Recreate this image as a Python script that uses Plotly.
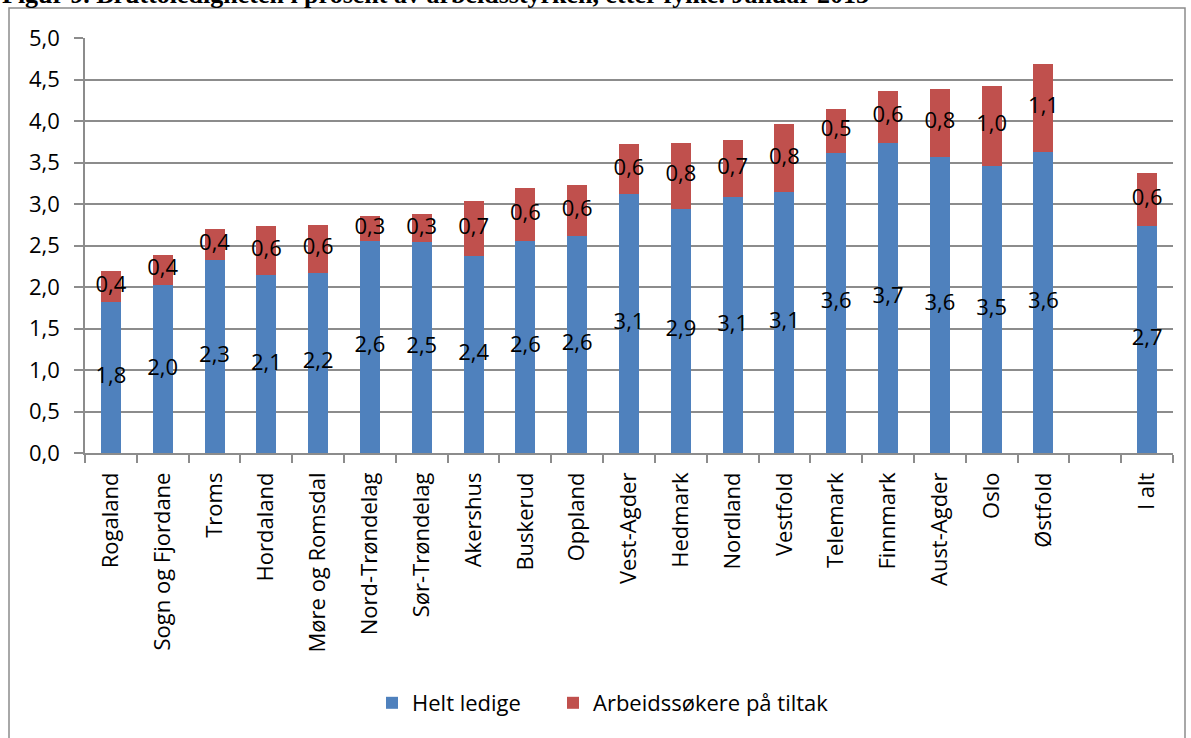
import plotly.graph_objects as go

categories = ["Rogaland", "Sogn og Fjordane", "Troms", "Hordaland", "Møre og Romsdal",
              "Nord-Trøndelag", "Sør-Trøndelag", "Akershus", "Buskerud", "Oppland",
              "Vest-Agder", "Hedmark", "Nordland", "Vestfold", "Telemark", "Finnmark",
              "Aust-Agder", "Oslo", "Østfold", " ", "I alt"]
helt_ledige = [1.82, 2.02, 2.33, 2.14, 2.17, 2.56, 2.54, 2.37, 2.56, 2.62,
               3.12, 2.94, 3.08, 3.14, 3.62, 3.74, 3.57, 3.46, 3.63, None, 2.73]
tiltak = [0.37, 0.37, 0.37, 0.60, 0.58, 0.29, 0.34, 0.67, 0.63, 0.61,
          0.60, 0.80, 0.69, 0.82, 0.52, 0.62, 0.82, 0.96, 1.06, None, 0.64]
series_names = ["Helt ledige", "Arbeidssøkere på tiltak"]
title_text = "Figur 9. Bruttoledigheten i prosent av arbeidsstyrken, etter fylke. Januar 2013"

BLUE = "#4F81BD"
RED = "#C0504D"
GRID = "#8C8C8C"
FONT = "Open Sans"
FS = 22

W, H = 1191, 738
ML, MR, MT, MB = 85, 18, 38, 285
PW, PH = W - ML - MR, H - MT - MB


def px_x(px):
    return (px - ML) / PW


def px_y(py):
    return (H - MB - py) / PH


def fmt(v):
    return f"{v:.1f}".replace(".", ",")


fig = go.Figure()
fig.add_trace(go.Bar(x=categories, y=helt_ledige, name=series_names[0], legend="legend",
                     marker=dict(color=BLUE, line=dict(width=0))))
fig.add_trace(go.Bar(x=categories, y=tiltak, name=series_names[1], legend="legend2",
                     marker=dict(color=RED, line=dict(width=0))))

# data labels at segment centres
lx, ly1, lt1, ly2, lt2 = [], [], [], [], []
for c, b, r in zip(categories, helt_ledige, tiltak):
    if b is None:
        continue
    lx.append(c)
    ly1.append(b / 2)
    lt1.append(fmt(b))
    ly2.append(b + r / 2)
    lt2.append(fmt(r))
for yy, tt in ((ly1, lt1), (ly2, lt2)):
    fig.add_trace(go.Scatter(x=lx, y=yy, text=tt, mode="text", showlegend=False,
                             textfont=dict(family=FONT, size=FS, color="black"),
                             hoverinfo="skip"))

legend_common = dict(orientation="h", yanchor="middle", xanchor="left",
                     font=dict(family=FONT, size=FS, color="black"),
                     itemwidth=30, bgcolor="rgba(0,0,0,0)")
fig.update_layout(
    width=W, height=H,
    margin=dict(l=ML, r=MR, t=MT, b=MB, autoexpand=False),
    barmode="stack", bargap=0.614,
    separators=",.",
    plot_bgcolor="white", paper_bgcolor="white",
    font=dict(family=FONT, size=FS, color="black"),
    showlegend=True,
    legend=dict(x=px_x(372), y=px_y(703), **legend_common),
    legend2=dict(x=px_x(553), y=px_y(703), **legend_common),
)
fig.update_xaxes(type="category", categoryorder="array", categoryarray=categories,
                 tickangle=-90, ticks="outside", tickson="boundaries", ticklen=8,
                 tickcolor=GRID, tickwidth=1.5, showline=True, linecolor=GRID, linewidth=1.5,
                 showgrid=False, tickfont=dict(family=FONT, size=FS, color="black"),
                 ticklabelstandoff=9,
                 range=[-0.5, len(categories) - 0.5])
fig.update_yaxes(range=[0, 5], dtick=0.5, tickformat=".1f", ticks="outside", ticklen=9,
                 tickcolor=GRID, tickwidth=1.5, showline=True, linecolor=GRID, linewidth=1.5,
                 showgrid=True, gridcolor=GRID, gridwidth=1.5, zeroline=False,
                 tickfont=dict(family=FONT, size=FS, color="black"), ticklabelstandoff=10)

# outer chart border
fig.add_shape(type="rect", xref="paper", yref="paper",
              x0=px_x(9), x1=px_x(1185), y0=px_y(760), y1=px_y(8),
              line=dict(color=GRID, width=1.5), fillcolor="rgba(0,0,0,0)", layer="below")

# clipped title at the very top
fig.add_annotation(text="<b>" + title_text + "</b>", xref="paper", yref="paper",
                   x=px_x(0), y=px_y(11), xanchor="left", yanchor="bottom", showarrow=False,
                   font=dict(family="Liberation Serif", size=26, color="black"))

fig.write_html("out.html", config={"displayModeBar": False},
               post_script="document.body.style.margin='0';")
